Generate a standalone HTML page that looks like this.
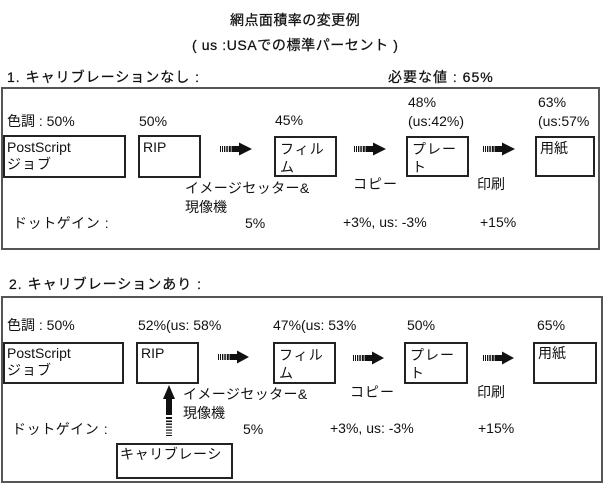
<!DOCTYPE html>
<html>
<head>
<meta charset="utf-8">
<style>
html,body{margin:0;padding:0;background:#fff;}
#c{position:relative;width:604px;height:487px;overflow:hidden;background:#fff;
  font-family:"Liberation Sans","Noto Sans CJK JP",sans-serif;font-size:14px;color:#111;}
.t{position:absolute;line-height:16px;white-space:nowrap;}
.h{-webkit-text-stroke:0.25px #111;}
.ob{position:absolute;border:2px solid #555;box-sizing:border-box;}
.b{position:absolute;border:2px solid #222;box-sizing:border-box;}
.bt{position:absolute;line-height:19px;white-space:nowrap;left:3px;}
.a{position:absolute;}
</style>
</head>
<body>
<div id="c">
  <div class="t h" style="left:230px;top:12px;letter-spacing:0.45px;">網点面積率の変更例</div>
  <div class="t h" style="left:192px;top:37px;letter-spacing:0.6px;">( us :USAでの標準パーセント )</div>

  <!-- Section 1 -->
  <div class="t h" style="left:7px;top:69px;letter-spacing:1px;">1. キャリブレーションなし :</div>
  <div class="t h" style="left:388px;top:69px;letter-spacing:1px;">必要な値 : 65%</div>
  <div class="ob" style="left:1px;top:87px;width:599px;height:163px;"></div>

  <div class="t" style="left:7px;top:113px;">色調 : 50%</div>
  <div class="t" style="left:139px;top:113px;">50%</div>
  <div class="t" style="left:275px;top:112px;">45%</div>
  <div class="t" style="left:408px;top:94px;">48%</div>
  <div class="t" style="left:408px;top:113px;">(us:42%)</div>
  <div class="t" style="left:538px;top:94px;">63%</div>
  <div class="t" style="left:538px;top:113px;">(us:57%</div>

  <div class="b" style="left:3px;top:135px;width:123px;height:43px;"><div class="bt" style="top:1px;left:2px;">PostScript</div><div class="bt" style="top:18px;left:2px;letter-spacing:1px;">ジョブ</div></div>
  <div class="b" style="left:138px;top:135px;width:63px;height:43px;"><div class="bt" style="top:1px;">RIP</div></div>
  <div class="b" style="left:274px;top:136px;width:63px;height:41px;"><div class="bt" style="top:2px;left:4px;letter-spacing:1px;">フィル</div><div class="bt" style="top:20px;left:4px;">ム</div></div>
  <div class="b" style="left:406px;top:136px;width:63px;height:41px;"><div class="bt" style="top:2px;left:4px;letter-spacing:1px;">プレー</div><div class="bt" style="top:20px;left:4px;">ト</div></div>
  <div class="b" style="left:535px;top:136px;width:60px;height:41px;"><div class="bt" style="top:1px;">用紙</div></div>

  <svg class="a" style="left:220px;top:142px;" width="33" height="14"><g fill="#111"><rect x="0" y="4" width="1" height="6"/><rect x="2" y="4" width="1" height="6"/><rect x="4" y="4" width="1.3" height="6"/><rect x="6.3" y="4" width="1.5" height="6"/><rect x="8.8" y="4" width="2" height="6"/><rect x="11.5" y="4" width="8" height="6"/><polygon points="19,0.5 32,7 19,13.5"/></g></svg>
  <svg class="a" style="left:354px;top:142px;" width="33" height="14"><g fill="#111"><rect x="0" y="4" width="1" height="6"/><rect x="2" y="4" width="1" height="6"/><rect x="4" y="4" width="1.3" height="6"/><rect x="6.3" y="4" width="1.5" height="6"/><rect x="8.8" y="4" width="2" height="6"/><rect x="11.5" y="4" width="8" height="6"/><polygon points="19,0.5 32,7 19,13.5"/></g></svg>
  <svg class="a" style="left:483px;top:142px;" width="33" height="14"><g fill="#111"><rect x="0" y="4" width="1" height="6"/><rect x="2" y="4" width="1" height="6"/><rect x="4" y="4" width="1.3" height="6"/><rect x="6.3" y="4" width="1.5" height="6"/><rect x="8.8" y="4" width="2" height="6"/><rect x="11.5" y="4" width="8" height="6"/><polygon points="19,0.5 32,7 19,13.5"/></g></svg>

  <div class="t" style="left:185px;top:180px;letter-spacing:0.4px;">イメージセッター&amp;</div>
  <div class="t" style="left:185px;top:199px;">現像機</div>
  <div class="t" style="left:353px;top:176px;letter-spacing:1px;">コピー</div>
  <div class="t" style="left:477px;top:176px;">印刷</div>
  <div class="t" style="left:13px;top:215px;letter-spacing:0.6px;">ドットゲイン :</div>
  <div class="t" style="left:245px;top:215px;">5%</div>
  <div class="t" style="left:343px;top:214px;">+3%, us: -3%</div>
  <div class="t" style="left:480px;top:214px;">+15%</div>

  <!-- Section 2 -->
  <div class="t h" style="left:9px;top:276px;letter-spacing:1px;">2. キャリブレーションあり :</div>
  <div class="ob" style="left:1px;top:296px;width:602px;height:187px;"></div>

  <div class="t" style="left:7px;top:317px;">色調 : 50%</div>
  <div class="t" style="left:138px;top:317px;">52%(us: 58%</div>
  <div class="t" style="left:273px;top:317px;">47%(us: 53%</div>
  <div class="t" style="left:407px;top:317px;">50%</div>
  <div class="t" style="left:537px;top:317px;">65%</div>

  <div class="b" style="left:3px;top:342px;width:121px;height:42px;"><div class="bt" style="top:0px;left:2px;">PostScript</div><div class="bt" style="top:17px;left:2px;letter-spacing:1px;">ジョブ</div></div>
  <div class="b" style="left:136px;top:342px;width:63px;height:42px;"><div class="bt" style="top:0px;">RIP</div></div>
  <div class="b" style="left:273px;top:342px;width:63px;height:42px;"><div class="bt" style="top:2px;left:4px;letter-spacing:1px;">フィル</div><div class="bt" style="top:20px;left:4px;">ム</div></div>
  <div class="b" style="left:404px;top:342px;width:64px;height:42px;"><div class="bt" style="top:2px;left:4px;letter-spacing:1px;">プレー</div><div class="bt" style="top:20px;left:4px;">ト</div></div>
  <div class="b" style="left:533px;top:342px;width:64px;height:42px;"><div class="bt" style="top:0px;">用紙</div></div>

  <svg class="a" style="left:218px;top:350px;" width="33" height="14"><g fill="#111"><rect x="0" y="4" width="1" height="6"/><rect x="2" y="4" width="1" height="6"/><rect x="4" y="4" width="1.3" height="6"/><rect x="6.3" y="4" width="1.5" height="6"/><rect x="8.8" y="4" width="2" height="6"/><rect x="11.5" y="4" width="8" height="6"/><polygon points="19,0.5 31,7 19,13.5"/></g></svg>
  <svg class="a" style="left:353px;top:351px;" width="33" height="14"><g fill="#111"><rect x="0" y="4" width="1" height="6"/><rect x="2" y="4" width="1" height="6"/><rect x="4" y="4" width="1.3" height="6"/><rect x="6.3" y="4" width="1.5" height="6"/><rect x="8.8" y="4" width="2" height="6"/><rect x="11.5" y="4" width="8" height="6"/><polygon points="19,0.5 31,7 19,13.5"/></g></svg>
  <svg class="a" style="left:483px;top:351px;" width="33" height="14"><g fill="#111"><rect x="0" y="4" width="1" height="6"/><rect x="2" y="4" width="1" height="6"/><rect x="4" y="4" width="1.3" height="6"/><rect x="6.3" y="4" width="1.5" height="6"/><rect x="8.8" y="4" width="2" height="6"/><rect x="11.5" y="4" width="8" height="6"/><polygon points="19,0.5 31,7 19,13.5"/></g></svg>

  <!-- up arrow -->
  <svg class="a" style="left:162px;top:385px;" width="14" height="53"><g fill="#111"><polygon points="7,0 13,14 1,14"/><rect x="4" y="13" width="6" height="17"/><rect x="4" y="32" width="6" height="2"/><rect x="4" y="35.5" width="6" height="1.6"/><rect x="4" y="38.5" width="6" height="1.4"/><rect x="4" y="41.5" width="6" height="1.2"/><rect x="4" y="44.5" width="6" height="1.2"/><rect x="4" y="47.5" width="6" height="1"/><rect x="4" y="50" width="6" height="1"/></g></svg>

  <div class="t" style="left:183px;top:386px;letter-spacing:0.4px;">イメージセッター&amp;</div>
  <div class="t" style="left:183px;top:405px;">現像機</div>
  <div class="t" style="left:350px;top:384px;letter-spacing:1px;">コピー</div>
  <div class="t" style="left:477px;top:384px;">印刷</div>
  <div class="t" style="left:12px;top:421px;letter-spacing:0.6px;">ドットゲイン :</div>
  <div class="t" style="left:243px;top:421px;">5%</div>
  <div class="t" style="left:330px;top:420px;">+3%, us: -3%</div>
  <div class="t" style="left:478px;top:420px;">+15%</div>

  <div class="b" style="left:116px;top:443px;width:117px;height:36px;"><div class="bt" style="top:0px;left:2px;letter-spacing:0.6px;">キャリブレーシ</div></div>
</div>
</body>
</html>
